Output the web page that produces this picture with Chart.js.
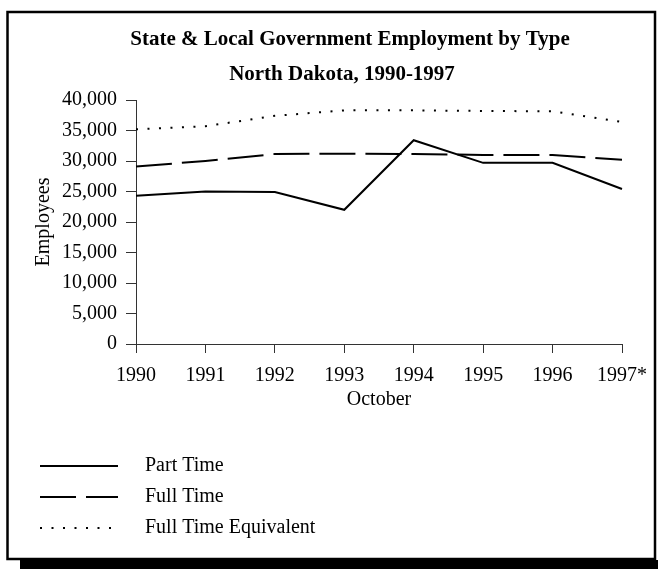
<!DOCTYPE html>
<html><head><meta charset="utf-8">
<script src="https://cdn.jsdelivr.net/npm/chart.js@4"></script>
<style>html,body{margin:0;padding:0;background:#fff}canvas{display:block}</style>
</head><body>
<canvas id="c" width="658" height="569"></canvas>
<script>
const years = ['1990','1991','1992','1993','1994','1995','1996','1997*'];
const partTime = [24300, 25000, 24900, 22000, 33400, 29700, 29700, 25400];
const fullTime = [29100, 30000, 31150, 31200, 31150, 31000, 31000, 30200];
const fullTimeEquiv = [35200, 35700, 37400, 38300, 38300, 38200, 38150, 36400];
const yTicks = [0, 5000, 10000, 15000, 20000, 25000, 30000, 35000, 40000];
const titleLines = ['State & Local Government Employment by Type', 'North Dakota, 1990-1997'];

const SERIF = '"Liberation Serif", "Times New Roman", serif';

const framePlugin = {
  id: 'frame',
  beforeDraw(chart) {
    const ctx = chart.ctx;
    ctx.save();
    ctx.fillStyle = '#fff';
    ctx.fillRect(0, 0, chart.width, chart.height);
    ctx.restore();
  },
  afterDraw(chart) {
    const ctx = chart.ctx;
    ctx.save();
    // frame
    ctx.strokeStyle = '#000';
    ctx.lineWidth = 2.5;
    ctx.strokeRect(7.5, 12, 647.5, 547);
    // shadow band
    ctx.fillStyle = '#000';
    ctx.fillRect(20, 560, 638, 9);
    // title
    ctx.fillStyle = '#000';
    ctx.font = 'bold 21px ' + SERIF;
    ctx.textAlign = 'center';
    ctx.textBaseline = 'alphabetic';
    ctx.fillText(titleLines[0], 350, 45);
    ctx.fillText(titleLines[1], 342, 80);
    // legend
    const rows = [466, 497, 528];
    chart.data.datasets.forEach((ds, i) => {
      const y = rows[i];
      ctx.save();
      ctx.strokeStyle = ds.borderColor;
      ctx.lineWidth = ds.borderWidth;
      ctx.setLineDash(ds.borderDash || []);
      ctx.beginPath();
      ctx.moveTo(40, y);
      ctx.lineTo(118, y);
      ctx.stroke();
      ctx.restore();
      ctx.font = '20px ' + SERIF;
      ctx.textAlign = 'left';
      ctx.textBaseline = 'middle';
      ctx.fillStyle = '#000';
      ctx.fillText(ds.label, 145, y);
    });
    ctx.restore();
  }
};

new Chart(document.getElementById('c'), {
  type: 'line',
  data: {
    labels: years,
    datasets: [
      { label: 'Part Time', data: partTime, borderColor: '#000', borderWidth: 2, borderDash: [], pointRadius: 0, tension: 0, fill: false },
      { label: 'Full Time', data: fullTime, borderColor: '#000', borderWidth: 2, borderDash: [36, 10], pointRadius: 0, tension: 0, fill: false },
      { label: 'Full Time Equivalent', data: fullTimeEquiv, borderColor: '#000', borderWidth: 2, borderDash: [2, 9.5], pointRadius: 0, tension: 0, fill: false }
    ]
  },
  options: {
    responsive: false,
    animation: false,
    devicePixelRatio: 1,
    layout: { padding: { top: 100, left: 0, right: 35, bottom: 155 } },
    plugins: { legend: { display: false }, title: { display: false }, tooltip: { enabled: false } },
    scales: {
      x: {
        type: 'category',
        offset: false,
        afterFit(s) { s.height = 70; },
        grid: { display: true, drawOnChartArea: false, drawTicks: true, tickLength: 9, color: '#333', lineWidth: 1 },
        border: { display: true, color: '#333', width: 1 },
        ticks: { color: '#000', font: { family: SERIF, size: 20 }, padding: 11, maxRotation: 0, autoSkip: false },
        title: { display: true, text: 'October', color: '#000', font: { family: SERIF, size: 20 }, padding: { top: 0, bottom: 2 } }
      },
      y: {
        min: 0, max: 40000,
        afterFit(s) { s.width = 136; },
        afterBuildTicks(s) { s.ticks = yTicks.map(v => ({ value: v })); },
        grid: { display: true, drawOnChartArea: false, drawTicks: true, tickLength: 10, color: '#333', lineWidth: 1 },
        border: { display: true, color: '#333', width: 1 },
        ticks: { color: '#000', font: { family: SERIF, size: 20 }, padding: 9, callback: v => v.toLocaleString('en-US') },
        title: { display: true, text: 'Employees', color: '#000', font: { family: SERIF, size: 20 }, padding: { top: 32, bottom: 0 } }
      }
    }
  },
  plugins: [framePlugin]
});
</script>
</body></html>
